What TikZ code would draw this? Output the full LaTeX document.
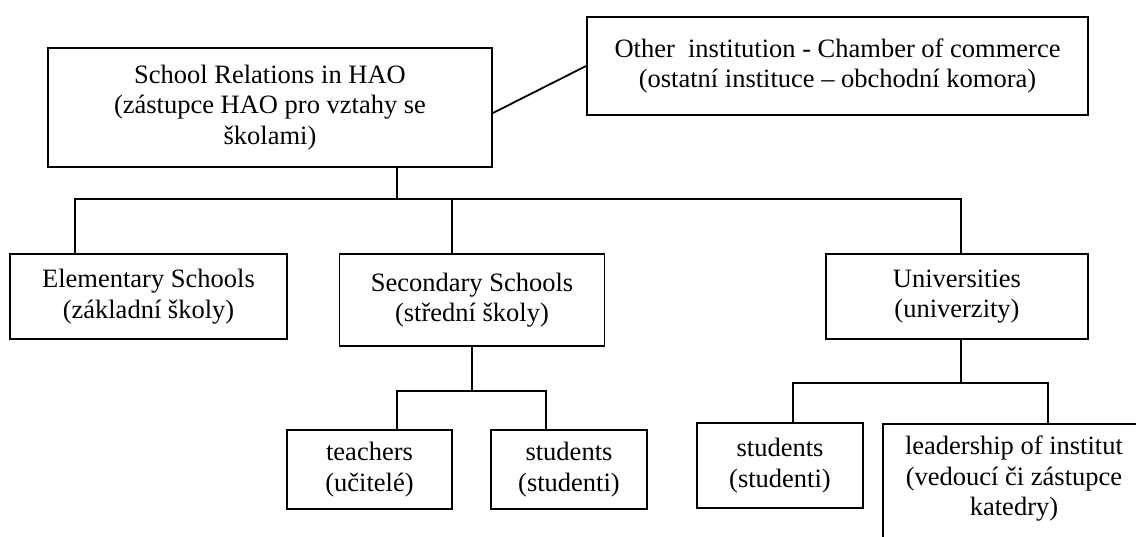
\documentclass[tikz,border=0pt]{standalone}
\usepackage{fontspec}
\setmainfont{Liberation Serif}
\begin{document}
\begin{tikzpicture}[x=1pt,y=-1pt,
  box/.style={draw=black, line width=1.8pt, inner sep=0pt, align=center,
    font=\fontsize{26.5}{30.5}\selectfont},
  txt/.style={inner sep=0pt, align=center, font=\fontsize{26.5}{30.5}\selectfont},
  conn/.style={draw=black, line width=1.8pt}]
\useasboundingbox (0,0) rectangle (1136,536);
\clip (0,0) rectangle (1136,536);
% boxes
\node[box, minimum width=444pt, minimum height=119pt] (school) at (270,107.5)
  {School Relations in HAO\\(zástupce HAO pro vztahy se\\školami)};
\node[box, minimum width=501pt, minimum height=98pt] (other) at (837.5,66)
  {Other\ \ institution - Chamber of commerce\\(ostatní instituce – obchodní komora)};
\node[box, minimum width=277pt, minimum height=85pt] (elem) at (148.5,296.5)
  {Elementary Schools\\(základní školy)};
\node[box, minimum width=265pt, minimum height=92pt] (sec) at (472,300)
  {Secondary Schools\\(střední školy)};
\node[box, minimum width=262pt, minimum height=85pt] (univ) at (957,296.5)
  {Universities\\(univerzity)};
\node[box, minimum width=165pt, minimum height=79pt] (teach) at (369.5,469.5)
  {teachers\\(učitelé)};
\node[box, minimum width=156pt, minimum height=79pt] (stud) at (569,469.5)
  {students\\(studenti)};
\node[box, minimum width=166pt, minimum height=85pt] (stud2) at (780,465.5)
  {students\\(studenti)};
\node[box, minimum width=264pt, minimum height=200pt, anchor=north west] (lead) at (882,423) {};
\node[txt] (leadtext) at (1014,479)
  {leadership of institut\\(vedoucí či zástupce\\katedry)};
% junction coordinates
\coordinate (h1) at (397,199);
\coordinate (e1) at (75,199);
\coordinate (s1) at (452,199);
\coordinate (u1) at (961,199);
\coordinate (sb) at (472,391);
\coordinate (t1) at (397,391);
\coordinate (st1) at (546,391);
\coordinate (ub) at (961,383);
\coordinate (us1) at (793,383);
\coordinate (ul1) at (1048,383);
% connectors
\draw[conn] ([yshift=-5.5pt]school.east) -- (other.west);
\draw[conn] (school.south -| h1) -- (h1);
\draw[conn] (elem.north -| e1) -- (e1) -- (u1) -- (univ.north -| u1);
\draw[conn] (s1) -- (sec.north -| s1);
\draw[conn] (sec.south) -- (sb);
\draw[conn] (teach.north -| t1) -- (t1) -- (st1) -- (stud.north -| st1);
\draw[conn] (univ.south -| ub) -- (ub);
\draw[conn] (stud2.north -| us1) -- (us1) -- (ul1) -- (lead.north -| ul1);
\end{tikzpicture}
\end{document}
